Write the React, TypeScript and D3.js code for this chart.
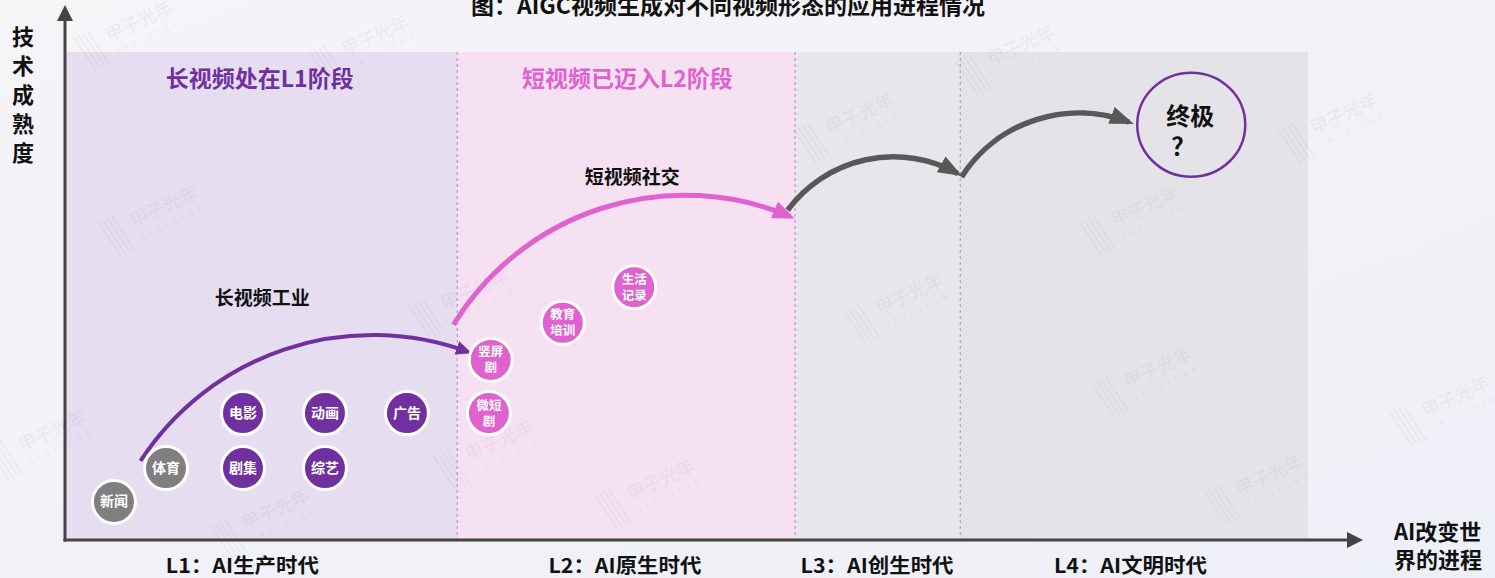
import React from 'react'
import * as d3 from 'd3'

// 畫布尺寸
const W = 1495
const H = 578

// 階段（x 以 0–100 表示 AI 進程）
const stageNames = ['L1', 'L2', 'L3', 'L4']
const stageStarts = [0, 31.5, 58.7, 72.0]
const stageEnds = [31.5, 58.7, 72.0, 100]
const stageLabels = ['L1：AI生产时代', 'L2：AI原生时代', 'L3：AI创生时代', 'L4：AI文明时代']
const stageLabelX = [14.2, 45.0, 65.3, 85.7]

// 階段標題
const headings = [
  { text: '长视频处在L1阶段', x: 15.6, y: 94.5, kind: 'long' },
  { text: '短视频已迈入L2阶段', x: 45.2, y: 94.5, kind: 'short' }
]

// 視頻形態（y 以 0–100 表示技術成熟度）
const formNames = ['新闻', '体育', '电影', '动画', '广告', '剧集', '综艺', '竖屏|剧', '微短|剧', '教育|培训', '生活|记录']
const formX = [3.86, 8.05, 14.25, 20.85, 27.45, 14.25, 20.85, 34.2, 34.05, 40.0, 45.75]
const formY = [7.8, 14.75, 26.0, 26.0, 26.0, 14.75, 14.75, 36.9, 26.0, 44.5, 51.8]
const formKind = ['base', 'base', 'long', 'long', 'long', 'long', 'long', 'short', 'short', 'short', 'short']

// 進程弧線：起點、頂點、終點
const arcs = [
  { kind: 'long', pts: [[6.0, 16.2], [24.5, 42.0], [32.3, 38.6]] },
  { kind: 'short', pts: [[31.2, 44.1], [48.2, 70.5], [58.3, 66.3]] },
  { kind: 'next', pts: [[58.1, 67.6], [66.3, 78.5], [71.8, 75.1]] },
  { kind: 'next', pts: [[72.1, 74.4], [81.2, 87.5], [85.6, 85.6]] }
]

const arcLabels = [
  { text: '长视频工业', x: 15.8, y: 49.6 },
  { text: '短视频社交', x: 45.6, y: 74.4 }
]

const ultimate = { lines: ['终极', '？'], x: 90.6, y: 85.1 }

const watermarks: [number, number][] = [
  [4, 104], [6, 66], [31, 49], [33, 18], [15, 4], [62, 85], [66, 48], [85, 66], [86, 33],
  [95, 11], [101, 85], [110, 27], [46, 10], [-3, 20], [75, 99], [23, 101]
]

const colors: Record<string, string> = {
  base: '#7f7f7f',
  long: '#7030a0',
  short: '#e062cf',
  next: '#585858'
}
const stageFills = ['#e6ddf0', '#f6e1f3', '#e8e6eb', '#e4e4e8']
const fontFamily = '"Noto Sans CJK SC", "Noto Sans", sans-serif'

// 過三點的圓弧
const circleArc = (p: number[][]) => {
  const [[ax, ay], [bx, by], [cx, cy]] = p
  const d = 2 * (ax * (by - cy) + bx * (cy - ay) + cx * (ay - by))
  const ux = ((ax * ax + ay * ay) * (by - cy) + (bx * bx + by * by) * (cy - ay) + (cx * cx + cy * cy) * (ay - by)) / d
  const uy = ((ax * ax + ay * ay) * (cx - bx) + (bx * bx + by * by) * (ax - cx) + (cx * cx + cy * cy) * (bx - ax)) / d
  const r = Math.hypot(ax - ux, ay - uy)
  return `M${ax},${ay}A${r},${r} 0 0 1 ${cx},${cy}`
}

export default function App() {
  const x = d3.scaleLinear().domain([0, 100]).range([66, 1308])
  const y = d3.scaleLinear().domain([0, 100]).range([540, 52])

  const markerSize: Record<string, [number, number, number]> = {
    long: [16, 7, 4],
    short: [22, 9, 5],
    next: [24, 9, 5.5]
  }

  return (
    <svg width={W} height={H} style={{ position: 'fixed', left: 0, top: 0, display: 'block' }}
      fontFamily={fontFamily}>
      <defs>
        <linearGradient id="bg" x1="0" y1="0" x2="1" y2="1">
          <stop offset="0%" stopColor="#f5f5f8" />
          <stop offset="100%" stopColor="#eef0f7" />
        </linearGradient>
        {Object.keys(markerSize).map(k => {
          const [len, h] = markerSize[k]
          return (
            <marker key={k} id={`arrow-${k}`} markerUnits="userSpaceOnUse"
              markerWidth={len} markerHeight={h * 2} viewBox={`0 ${-h} ${len} ${h * 2}`}
              refX={len - 5} refY={0} orient="auto">
              <path d={`M0,${-h}L${len},0L0,${h}Z`} fill={colors[k]} />
            </marker>
          )
        })}
        <marker id="axis-arrow" markerUnits="userSpaceOnUse" markerWidth={16} markerHeight={16}
          viewBox="0 -8 16 16" refX={1} refY={0} orient="auto">
          <path d="M0,-8L16,0L0,8Z" fill="#444" />
        </marker>
      </defs>

      <rect width={W} height={H} fill="url(#bg)" />

      {/* 階段背景 */}
      {stageNames.map((s, i) => (
        <rect key={s} x={x(stageStarts[i])} y={y(100)}
          width={x(stageEnds[i]) - x(stageStarts[i])} height={y(0) - y(100)}
          fill={stageFills[i]} />
      ))}
      {stageStarts.slice(1).map((v, i) => (
        <line key={i} x1={x(v)} x2={x(v)} y1={y(100)} y2={y(0)}
          stroke="#a98ad0" strokeWidth={1} strokeDasharray="3,3" />
      ))}

      {/* 水印 */}
      {watermarks.map(([wx, wy], i) => (
        <g key={i} transform={`translate(${x(wx)},${y(wy)}) rotate(-25)`} opacity={0.08}>
          {[0, 5, 10, 15].map(o => (
            <line key={o} x1={-40 + o} x2={-34 + o} y1={-14} y2={26} stroke="#777" strokeWidth={1.2} />
          ))}
          <text x={-10} y={6} fontSize={18} fill="#777">甲子光年</text>
          <text x={-8} y={20} fontSize={7} fill="#777" letterSpacing={5}>JAZZYEAR</text>
        </g>
      ))}

      {/* 坐標軸 */}
      <line x1={x(0) - 1} x2={x(0) - 1} y1={y(0) + 1.5} y2={20}
        stroke="#444" strokeWidth={3} markerEnd="url(#axis-arrow)" />
      <line x1={x(0) - 2.5} x2={1348} y1={y(0)} y2={y(0)}
        stroke="#444" strokeWidth={3} markerEnd="url(#axis-arrow)" />

      {/* 標題 */}
      <text x={728} y={14} textAnchor="middle" fontSize={23} fontWeight="bold" fill="#111">
        图：AIGC视频生成对不同视频形态的应用进程情况
      </text>

      {/* 軸標籤 */}
      {'技术成熟度'.split('').map((c, i) => (
        <text key={c} x={23} y={45 + i * 29} textAnchor="middle" fontSize={22} fontWeight="bold" fill="#111">{c}</text>
      ))}
      <text x={1394} y={540} fontSize={22} fontWeight="bold" fill="#111">AI改变世</text>
      <text x={1394} y={568} fontSize={22} fontWeight="bold" fill="#111">界的进程</text>

      {stageLabels.map((t, i) => (
        <text key={t} x={x(stageLabelX[i])} y={573} textAnchor="middle" fontSize={20}
          fontWeight="bold" fill="#111" textLength={153} lengthAdjust="spacingAndGlyphs">{t}</text>
      ))}

      {/* 階段標題 */}
      {headings.map(h => (
        <text key={h.text} x={x(h.x)} y={y(h.y) + 8} textAnchor="middle" fontSize={23}
          fontWeight="bold" fill={colors[h.kind]}>{h.text}</text>
      ))}

      {/* 進程弧線 */}
      {arcs.map((a, i) => (
        <path key={i} d={circleArc(a.pts.map(p => [x(p[0]), y(p[1])]))} fill="none" stroke={colors[a.kind]}
          strokeWidth={markerSize[a.kind][2]} markerEnd={`url(#arrow-${a.kind})`} />
      ))}

      {arcLabels.map(l => (
        <text key={l.text} x={x(l.x)} y={y(l.y) + 7} textAnchor="middle" fontSize={19}
          fontWeight="bold" fill="#111">{l.text}</text>
      ))}

      {/* 視頻形態 */}
      {formNames.map((n, i) => {
        const lines = n.split('|')
        const cx = x(formX[i])
        const cy = y(formY[i])
        return (
          <g key={n} transform={`translate(${cx},${cy})`}>
            <circle r={21.5} fill={colors[formKind[i]]} stroke="#fff" strokeWidth={3} />
            {lines.map((t, j) => (
              <text key={j} x={0} y={(j - (lines.length - 1) / 2) * 16 + 4.5} textAnchor="middle"
                fontSize={lines.length > 1 ? 12.5 : 14} fontWeight="bold" fill="#fff">{t}</text>
            ))}
          </g>
        )
      })}

      {/* 終極 */}
      <g transform={`translate(${x(ultimate.x)},${y(ultimate.y)})`}>
        <ellipse rx={54} ry={52} fill="none" stroke={colors.long} strokeWidth={2.5} />
        <text x={-1} y={0} textAnchor="middle" fontSize={24} fontWeight="bold" fill="#111">{ultimate.lines[0]}</text>
        <text x={-8} y={30} textAnchor="middle" fontSize={24} fontWeight="bold" fill="#111">{ultimate.lines[1]}</text>
      </g>
    </svg>
  )
}
